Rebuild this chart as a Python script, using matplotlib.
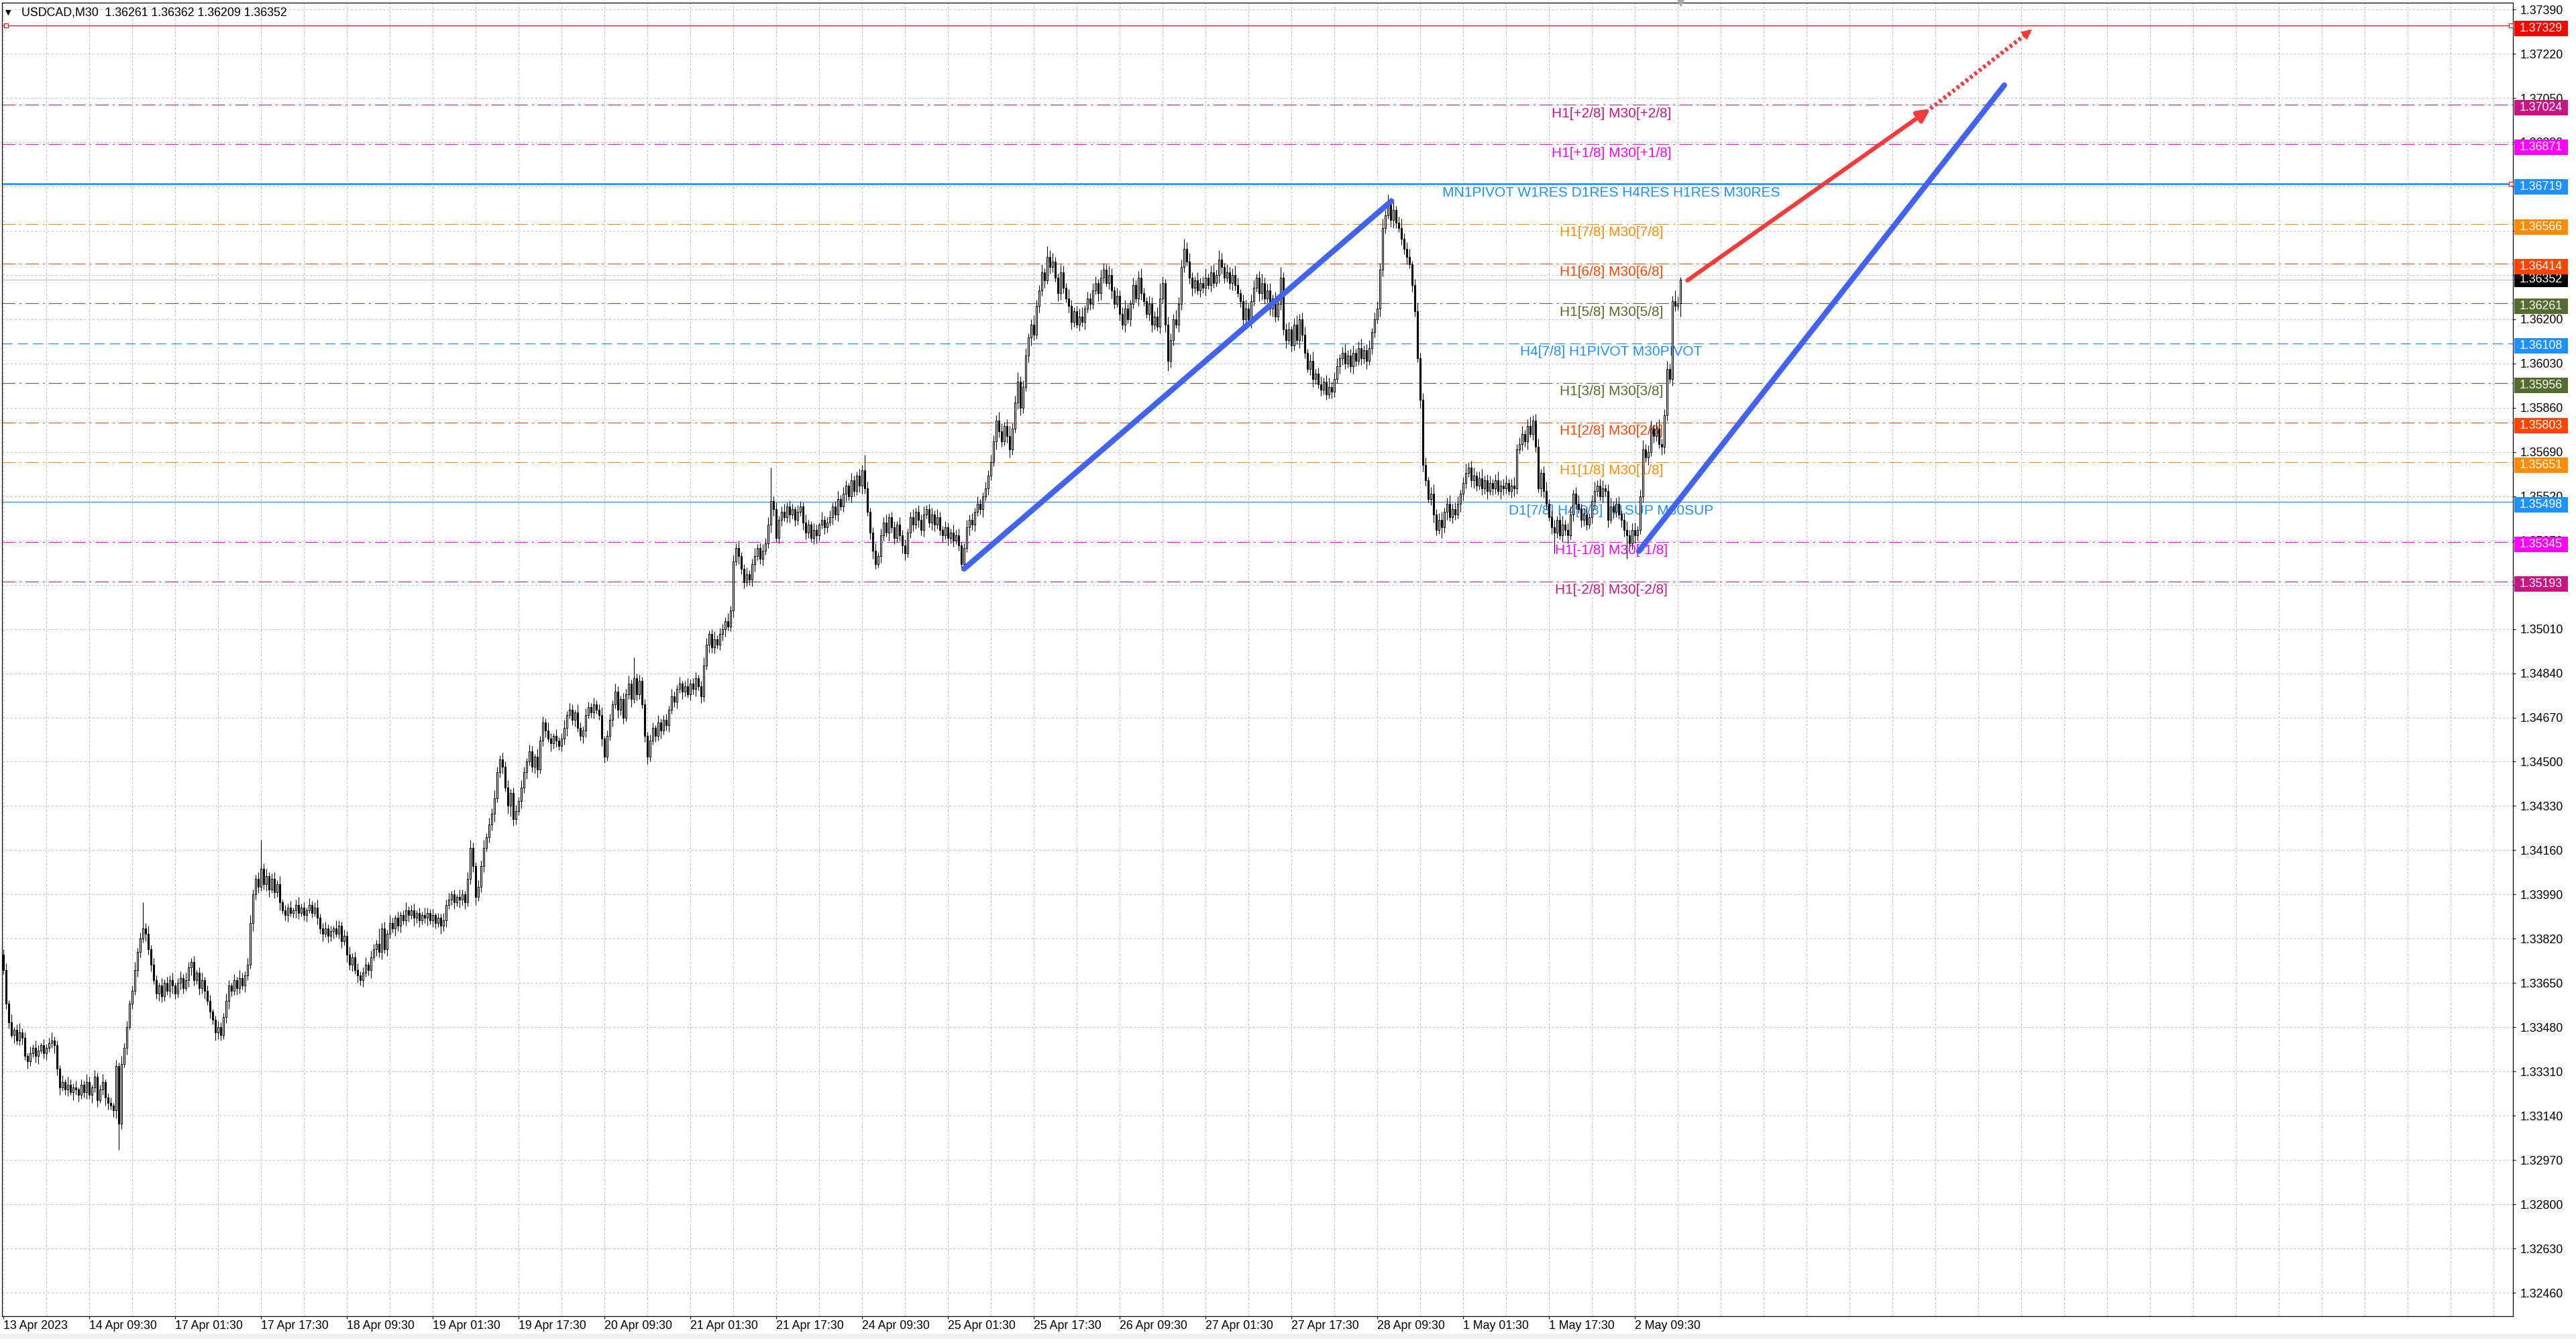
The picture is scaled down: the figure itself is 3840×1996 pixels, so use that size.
import matplotlib
matplotlib.use("Agg")
import matplotlib.pyplot as plt
import matplotlib.transforms as mtransforms
from matplotlib.patches import Rectangle
from matplotlib.ticker import FormatStrFormatter
import numpy as np

plt.rcParams['font.family'] = ['Liberation Sans', 'DejaVu Sans']
plt.rcParams['lines.scale_dashes'] = False

# ---------------- data ----------------
symbol = "USDCAD,M30"
first_open = 1.3376
closes = [
    1.3370, 1.3357, 1.3350, 1.3345, 1.3347, 1.3343, 1.3346, 1.3344, 1.3337, 1.3335,
    1.3338, 1.3340, 1.3337, 1.3339, 1.3341, 1.3338, 1.3340, 1.3342, 1.3343, 1.3341,
    1.3332, 1.3325, 1.3327, 1.3324, 1.3326, 1.3323, 1.3325, 1.3324, 1.3322, 1.3326,
    1.3323, 1.3327, 1.3322, 1.3325, 1.3329, 1.3320, 1.3324, 1.3327, 1.3321, 1.3319,
    1.3318, 1.3316, 1.3333, 1.3311, 1.3334, 1.3340, 1.3348, 1.3357, 1.3362, 1.3370,
    1.3377, 1.3382, 1.3386, 1.3384, 1.3378, 1.3372, 1.3366, 1.3361, 1.3364, 1.3360,
    1.3365, 1.3362, 1.3366, 1.3364, 1.3361, 1.3365, 1.3367, 1.3363, 1.3366, 1.3371,
    1.3373, 1.3366, 1.3369, 1.3363, 1.3366, 1.3362, 1.3358, 1.3354, 1.3351, 1.3346,
    1.3348, 1.3345, 1.3352, 1.3358, 1.3364, 1.3362, 1.3366, 1.3363, 1.3367, 1.3364,
    1.3368, 1.3372, 1.3388, 1.3399, 1.3405, 1.3402, 1.3409, 1.3403, 1.3406, 1.3401,
    1.3405, 1.3400, 1.3403, 1.3396, 1.3393, 1.3391, 1.3394, 1.3392, 1.3393, 1.3395,
    1.3392, 1.3394, 1.3391, 1.3393, 1.3395, 1.3392, 1.3394, 1.3390, 1.3386, 1.3384,
    1.3386, 1.3383, 1.3385, 1.3386, 1.3384, 1.3387, 1.3381, 1.3383, 1.3376, 1.3372,
    1.3375, 1.3370, 1.3368, 1.3366, 1.3369, 1.3372, 1.3370, 1.3375, 1.3378, 1.3380,
    1.3377, 1.3386, 1.3378, 1.3384, 1.3388, 1.3386, 1.3390, 1.3387, 1.3391, 1.3389,
    1.3393, 1.3391, 1.3393, 1.3390, 1.3392, 1.3389, 1.3391, 1.3390, 1.3392, 1.3389,
    1.3391, 1.3388, 1.3390, 1.3387, 1.3389, 1.3395, 1.3397, 1.3399, 1.3396, 1.3398,
    1.3397, 1.3399, 1.3396, 1.3405, 1.3417, 1.3410, 1.3398, 1.3402, 1.3410, 1.3417,
    1.3421, 1.3426, 1.3430, 1.3436, 1.3446, 1.3451, 1.3448, 1.3440, 1.3433, 1.3438,
    1.3428, 1.3431, 1.3435, 1.3440, 1.3446, 1.3450, 1.3454, 1.3448, 1.3452, 1.3447,
    1.3458, 1.3465, 1.3462, 1.3459, 1.3457, 1.3460, 1.3458, 1.3456, 1.3459, 1.3463,
    1.3468, 1.3470, 1.3466, 1.3469, 1.3463, 1.3460, 1.3462, 1.3468, 1.3471, 1.3469,
    1.3472, 1.3470, 1.3468, 1.3459, 1.3452, 1.3460, 1.3466, 1.3472, 1.3477, 1.3470,
    1.3474, 1.3467, 1.3476, 1.3480, 1.3474, 1.3482, 1.3476, 1.3481, 1.3472, 1.3460,
    1.3452, 1.3458, 1.3463, 1.3460, 1.3465, 1.3462, 1.3466, 1.3464, 1.3470, 1.3475,
    1.3473, 1.3478, 1.3480, 1.3477, 1.3479, 1.3476, 1.3480, 1.3478, 1.3482, 1.3479,
    1.3475, 1.3487, 1.3495, 1.3499, 1.3494, 1.3497, 1.3495, 1.3499, 1.3501, 1.3504,
    1.3502, 1.3508, 1.3527, 1.3532, 1.3529, 1.3524, 1.3519, 1.3522, 1.3520, 1.3526,
    1.3529, 1.3532, 1.3528, 1.3531, 1.3534, 1.3541, 1.3550, 1.3547, 1.3536, 1.3543,
    1.3546, 1.3544, 1.3548, 1.3545, 1.3547, 1.3543, 1.3546, 1.3548, 1.3542, 1.3538,
    1.3541, 1.3536, 1.3539, 1.3537, 1.3541, 1.3543, 1.3540, 1.3542, 1.3544, 1.3548,
    1.3545, 1.3551, 1.3548, 1.3553, 1.3556, 1.3552, 1.3558, 1.3554, 1.3560, 1.3556,
    1.3562, 1.3555, 1.3546, 1.3538, 1.3531, 1.3526, 1.3529, 1.3537, 1.3542, 1.3538,
    1.3544, 1.3540, 1.3536, 1.3541, 1.3537, 1.3533, 1.3530, 1.3538, 1.3544, 1.3541,
    1.3546, 1.3543, 1.3539, 1.3545, 1.3547, 1.3542, 1.3545, 1.3541, 1.3544, 1.3539,
    1.3537, 1.3540, 1.3536, 1.3538, 1.3535, 1.3537, 1.3533, 1.3526, 1.3532, 1.3540,
    1.3543, 1.3541, 1.3546, 1.3549, 1.3547, 1.3552, 1.3555, 1.3560, 1.3565, 1.3573,
    1.3581, 1.3577, 1.3573, 1.3579, 1.3575, 1.3570, 1.3578, 1.3588, 1.3596, 1.3586,
    1.3594, 1.3606, 1.3613, 1.3618, 1.3614, 1.3625, 1.3631, 1.3638, 1.3635, 1.3644,
    1.3640, 1.3642, 1.3636, 1.3630, 1.3638, 1.3632, 1.3628, 1.3625, 1.3619, 1.3623,
    1.3618, 1.3621, 1.3619, 1.3624, 1.3628, 1.3626, 1.3631, 1.3634, 1.3630, 1.3636,
    1.3639, 1.3634, 1.3637, 1.3631, 1.3626, 1.3629, 1.3622, 1.3618, 1.3624, 1.3620,
    1.3626, 1.3633, 1.3628, 1.3636, 1.3630, 1.3627, 1.3622, 1.3626, 1.3618, 1.3621,
    1.3617, 1.3628, 1.3634, 1.3618, 1.3604, 1.3612, 1.3620, 1.3618, 1.3626, 1.3640,
    1.3647, 1.3642, 1.3636, 1.3632, 1.3635, 1.3631, 1.3634, 1.3632, 1.3636, 1.3633,
    1.3638, 1.3634, 1.3637, 1.3643, 1.3640, 1.3636, 1.3638, 1.3634, 1.3637, 1.3633,
    1.3630, 1.3627, 1.3620, 1.3624, 1.3619, 1.3627, 1.3632, 1.3636, 1.3630, 1.3634,
    1.3628, 1.3631, 1.3624, 1.3628, 1.3621, 1.3626, 1.3636, 1.3616, 1.3612, 1.3616,
    1.3610, 1.3618, 1.3612, 1.3620, 1.3614, 1.3607, 1.3601, 1.3604, 1.3597, 1.3599,
    1.3595, 1.3593, 1.3596, 1.3591, 1.3594, 1.3592, 1.3597, 1.3602, 1.3605, 1.3607,
    1.3603, 1.3606, 1.3602, 1.3607, 1.3604, 1.3609, 1.3605, 1.3608, 1.3604, 1.3609,
    1.3615, 1.3620, 1.3624, 1.3639, 1.3655, 1.3660, 1.3664, 1.3658, 1.3662, 1.3657,
    1.3655, 1.3651, 1.3647, 1.3644, 1.3641, 1.3633, 1.3623, 1.3605, 1.3589, 1.3564,
    1.3558, 1.3551, 1.3553, 1.3545, 1.3539, 1.3543, 1.3540, 1.3546, 1.3549, 1.3544,
    1.3547, 1.3545, 1.3549, 1.3553, 1.3557, 1.3561, 1.3563, 1.3558, 1.3560, 1.3556,
    1.3559, 1.3555, 1.3558, 1.3554, 1.3557, 1.3555, 1.3558, 1.3554, 1.3556, 1.3555,
    1.3557, 1.3554, 1.3556, 1.3555, 1.3570, 1.3572, 1.3576, 1.3573, 1.3579, 1.3576,
    1.3581, 1.3571, 1.3555, 1.3561, 1.3554, 1.3549, 1.3544, 1.3540, 1.3538, 1.3543,
    1.3537, 1.3541, 1.3539, 1.3537, 1.3545, 1.3553, 1.3549, 1.3547, 1.3543, 1.3545,
    1.3541, 1.3544, 1.3550, 1.3554, 1.3556, 1.3552, 1.3555, 1.3554, 1.3543, 1.3548,
    1.3546, 1.3549, 1.3545, 1.3543, 1.3539, 1.3537, 1.3534, 1.3539, 1.3537, 1.3539,
    1.3552, 1.3570, 1.3567, 1.3569, 1.3578, 1.3575, 1.3578, 1.3572, 1.3571, 1.3583,
    1.3601, 1.3597, 1.3627, 1.3625, 1.36261, 1.36352,
]
# upper / lower wick lengths in points (0.00001)
hi_pts = [
    20, 25, 15, 30, 10, 20, 35, 15, 20, 10,
    25, 15, 30, 20, 10, 25, 15, 20, 30, 15,
    20, 15, 25, 10, 30, 20, 15, 25, 10, 20,
    15, 30, 20, 10, 25, 15, 20, 30, 10, 15,
    20, 10, 25, 15, 30, 20, 25, 15, 20, 30,
    15, 25, 100, 20, 30, 15, 25, 20, 10, 30,
    15, 25, 20, 30, 10, 20, 25, 15, 30, 20,
    15, 25, 10, 20, 30, 15, 20, 25, 10, 15,
    25, 20, 15, 30, 20, 10, 25, 15, 30, 20,
    15, 25, 30, 20, 15, 25, 110, 20, 30, 15,
    20, 25, 15, 30, 10, 20, 15, 25, 10, 20,
    30, 15, 20, 10, 25, 15, 20, 30, 15, 20,
    25, 15, 20, 10, 30, 20, 15, 25, 20, 30,
    15, 20, 25, 15, 20, 30, 10, 25, 20, 15,
    60, 20, 25, 15, 30, 20, 10, 25, 15, 20,
    30, 15, 20, 25, 10, 20, 15, 30, 20, 15,
    25, 10, 20, 15, 30, 20, 25, 15, 20, 10,
    30, 20, 15, 25, 30, 20, 15, 25, 20, 30,
    15, 25, 20, 30, 20, 15, 25, 20, 30, 15,
    20, 25, 15, 30, 20, 15, 25, 20, 10, 30,
    20, 25, 15, 30, 20, 10, 25, 15, 20, 30,
    15, 25, 20, 10, 30, 20, 15, 25, 20, 15,
    25, 15, 20, 30, 10, 20, 25, 15, 30, 20,
    15, 25, 20, 30, 15, 80, 20, 25, 15, 20,
    15, 25, 20, 10, 30, 15, 20, 25, 15, 30,
    20, 15, 25, 10, 20, 30, 15, 20, 25, 15,
    20, 30, 25, 15, 20, 30, 15, 25, 20, 15,
    30, 20, 25, 20, 30, 15, 20, 25, 15, 20,
    30, 15, 20, 25, 20, 30, 130, 20, 25, 15,
    20, 30, 15, 25, 20, 10, 25, 20, 15, 30,
    20, 15, 25, 20, 10, 30, 15, 20, 25, 15,
    20, 30, 15, 25, 20, 10, 30, 20, 15, 25,
    20, 60, 25, 15, 20, 30, 15, 25, 20, 30,
    15, 20, 25, 15, 30, 20, 25, 15, 20, 30,
    15, 25, 20, 30, 15, 20, 25, 15, 30, 20,
    15, 25, 20, 15, 30, 20, 25, 15, 20, 30,
    20, 25, 15, 30, 20, 15, 25, 20, 30, 25,
    20, 35, 30, 15, 25, 40, 20, 25, 35, 20,
    25, 30, 15, 20, 35, 25, 20, 30, 15, 40,
    25, 35, 20, 15, 30, 25, 20, 35, 25, 15,
    20, 30, 35, 15, 25, 20, 30, 25, 15, 30,
    25, 20, 35, 25, 15, 30, 20, 25, 35, 20,
    15, 30, 20, 25, 35, 20, 15, 30, 25, 20,
    35, 60, 25, 15, 30, 25, 20, 35, 25, 30,
    40, 25, 35, 20, 15, 30, 20, 25, 35, 15,
    25, 30, 20, 35, 25, 15, 30, 20, 25, 35,
    30, 15, 25, 35, 20, 25, 30, 15, 25, 35,
    20, 25, 30, 15, 25, 35, 40, 20, 25, 30,
    15, 25, 35, 20, 25, 30, 15, 25, 35, 20,
    25, 30, 15, 25, 35, 20, 25, 30, 15, 25,
    35, 20, 25, 30, 15, 25, 35, 20, 25, 30,
    15, 25, 30, 25, 35, 20, 40, 25, 30, 15,
    25, 35, 20, 25, 30, 15, 25, 35, 20, 25,
    30, 15, 25, 35, 20, 25, 30, 15, 25, 35,
    20, 25, 30, 15, 25, 35, 20, 25, 30, 15,
    25, 35, 20, 25, 30, 15, 25, 35, 20, 25,
    30, 15, 25, 35, 20, 25, 30, 15, 25, 35,
    20, 25, 30, 15, 25, 35, 20, 25, 30, 15,
    25, 35, 20, 25, 30, 15, 25, 35, 20, 25,
    30, 15, 25, 35, 20, 25, 30, 15, 25, 35,
    20, 25, 30, 15, 25, 35, 20, 25, 30, 15,
    25, 35, 20, 25, 30, 15, 25, 35, 20, 25,
    30, 20, 20, 40, 25, 10,
]
lo_pts = [
    15, 20, 25, 10, 30, 15, 20, 25, 15, 30,
    20, 15, 25, 30, 10, 20, 25, 15, 20, 30,
    25, 30, 15, 20, 25, 10, 30, 20, 25, 15,
    20, 25, 15, 30, 20, 25, 10, 20, 30, 25,
    15, 25, 30, 100, 20, 15, 25, 10, 20, 15,
    25, 20, 15, 30, 20, 25, 15, 20, 30, 25,
    20, 15, 25, 30, 20, 15, 25, 20, 10, 25,
    30, 20, 15, 25, 20, 30, 15, 25, 20, 30,
    25, 20, 15, 25, 30, 20, 15, 25, 20, 15,
    25, 20, 15, 30, 20, 25, 15, 20, 25, 30,
    15, 25, 20, 30, 15, 20, 25, 15, 20, 30,
    25, 15, 20, 25, 10, 20, 15, 25, 20, 30,
    15, 25, 20, 30, 15, 20, 25, 15, 30, 20,
    25, 15, 30, 20, 25, 15, 20, 30, 15, 25,
    20, 30, 15, 25, 20, 15, 30, 20, 25, 15,
    20, 25, 15, 30, 20, 25, 15, 20, 30, 15,
    25, 20, 15, 30, 20, 25, 15, 20, 25, 15,
    30, 20, 25, 15, 20, 25, 30, 15, 20, 25,
    15, 20, 25, 30, 15, 20, 25, 15, 30, 40,
    25, 20, 15, 30, 20, 25, 15, 20, 25, 30,
    15, 20, 25, 15, 30, 20, 25, 15, 20, 25,
    30, 15, 20, 25, 15, 20, 30, 25, 15, 20,
    25, 15, 20, 30, 25, 15, 20, 25, 15, 30,
    20, 25, 15, 20, 30, 15, 25, 20, 15, 25,
    30, 20, 15, 25, 20, 30, 15, 20, 25, 15,
    20, 25, 15, 30, 20, 15, 25, 20, 30, 15,
    25, 20, 15, 30, 20, 25, 15, 20, 25, 30,
    15, 20, 25, 15, 30, 20, 25, 15, 20, 25,
    30, 15, 20, 25, 15, 20, 30, 25, 15, 20,
    25, 15, 20, 30, 15, 25, 20, 15, 30, 25,
    20, 15, 25, 30, 20, 15, 25, 20, 15, 30,
    20, 25, 15, 20, 30, 15, 25, 20, 15, 25,
    30, 20, 15, 25, 30, 20, 15, 25, 20, 15,
    30, 20, 25, 15, 20, 30, 25, 15, 20, 25,
    15, 30, 20, 25, 15, 20, 30, 25, 15, 20,
    25, 15, 30, 20, 25, 15, 20, 20, 25, 15,
    30, 20, 25, 15, 20, 30, 15, 25, 20, 15,
    30, 25, 20, 15, 25, 30, 20, 15, 25, 30,
    20, 15, 25, 30, 20, 15, 25, 20, 30, 15,
    25, 20, 15, 30, 25, 20, 15, 25, 30, 20,
    15, 25, 20, 30, 15, 25, 20, 15, 30, 25,
    20, 15, 25, 30, 20, 15, 25, 20, 30, 15,
    25, 20, 15, 30, 25, 20, 15, 25, 30, 20,
    15, 25, 20, 30, 40, 25, 20, 15, 30, 25,
    20, 15, 25, 30, 20, 15, 25, 20, 30, 15,
    25, 20, 15, 30, 25, 20, 15, 25, 30, 20,
    15, 25, 20, 30, 15, 25, 20, 15, 30, 25,
    20, 15, 25, 30, 20, 15, 25, 20, 30, 15,
    25, 20, 15, 30, 25, 20, 15, 25, 30, 20,
    15, 25, 20, 20, 15, 25, 20, 15, 30, 25,
    20, 15, 25, 30, 20, 15, 25, 20, 30, 15,
    25, 20, 15, 30, 25, 20, 15, 25, 30, 20,
    15, 25, 20, 30, 15, 25, 20, 15, 30, 25,
    20, 15, 25, 30, 20, 15, 40, 20, 30, 15,
    25, 20, 15, 30, 25, 20, 15, 25, 30, 20,
    15, 25, 20, 30, 15, 25, 20, 15, 30, 25,
    20, 15, 25, 30, 20, 15, 25, 20, 30, 15,
    25, 20, 15, 30, 25, 20, 15, 25, 80, 20,
    15, 25, 20, 30, 15, 25, 20, 15, 30, 25,
    20, 15, 25, 30, 20, 15, 25, 20, 30, 15,
    25, 20, 15, 30, 25, 90, 15, 25, 30, 20,
    15, 25, 20, 30, 15, 25, 20, 15, 30, 25,
    20, 15, 25, 20, 15, 52,
]

date_labels = ["13 Apr 2023", "14 Apr 09:30", "17 Apr 01:30", "17 Apr 17:30",
               "18 Apr 09:30", "19 Apr 01:30", "19 Apr 17:30", "20 Apr 09:30",
               "21 Apr 01:30", "21 Apr 17:30", "24 Apr 09:30", "25 Apr 01:30",
               "25 Apr 17:30", "26 Apr 09:30", "27 Apr 01:30", "27 Apr 17:30",
               "28 Apr 09:30", "1 May 01:30", "1 May 17:30", "2 May 09:30"]
bars_per_label = 32
bars_per_grid = 16

price_ticks = [1.32460, 1.32630, 1.32800, 1.32970, 1.33140, 1.33310, 1.33480,
               1.33650, 1.33820, 1.33990, 1.34160, 1.34330, 1.34500, 1.34670,
               1.34840, 1.35010, 1.35180, 1.35350, 1.35520, 1.35690, 1.35860,
               1.36030, 1.36200, 1.36370, 1.36540, 1.36710, 1.36880, 1.37050,
               1.37220, 1.37390]

levels = [1.37024, 1.36871, 1.36719, 1.36566, 1.36414, 1.36261, 1.36108,
          1.35956, 1.35803, 1.35651, 1.35498, 1.35345, 1.35193]
level_texts = ["H1[+2/8] M30[+2/8]", "H1[+1/8] M30[+1/8]",
               "MN1PIVOT W1RES D1RES H4RES H1RES M30RES",
               "H1[7/8] M30[7/8]", "H1[6/8] M30[6/8]", "H1[5/8] M30[5/8]",
               "H4[7/8] H1PIVOT M30PIVOT", "H1[3/8] M30[3/8]",
               "H1[2/8] M30[2/8]", "H1[1/8] M30[1/8]",
               "D1[7/8] H4[6/8] H1SUP M30SUP", "H1[-1/8] M30[-1/8]",
               "H1[-2/8] M30[-2/8]"]
level_colors = ["#C71585", "#FF00FF", "#1E90FF", "#FF8C00", "#FF4500",
                "#556B2F", "#1E90FF", "#556B2F", "#FF4500", "#FF8C00",
                "#1E90FF", "#FF00FF", "#C71585"]
level_kinds = ["dashdot", "dashdot", "thick", "dashdot", "dashdot", "dashdot",
               "dashed", "dashdot", "dashdot", "dashdot", "thin", "dashdot",
               "dashdot"]
red_level = 1.37329

# drawn objects (bar index, price)
blue_trends = [[(358.0, 1.35241), (517.3, 1.36654)],
               [(609.5, 1.35309), (745.7, 1.37099)]]
red_arrow = [(627.6, 1.36349), (718.2, 1.37009)]
red_dotted = [(718.2, 1.37009), (756.0, 1.37313)]

# ---------------- figure ----------------
W, H, DPI = 3840, 1996, 100
fig = plt.figure(figsize=(W / DPI, H / DPI), dpi=DPI, facecolor='white')
ax = fig.add_axes([3 / W, 34 / H, 3743 / W, 1958 / H])
ax.set_facecolor('white')
ax.set_xlim(-0.5, 935.25)
ax.set_ylim(1.32370, 1.37416)

# grid
ax.set_axisbelow(True)
ax.set_xticks(np.arange(0, len(date_labels) * bars_per_label, bars_per_label))
ax.set_xticklabels(date_labels, ha='left')
ax.set_xticks(np.arange(0, 936, bars_per_grid), minor=True)
ax.set_yticks(price_ticks)
ax.yaxis.set_major_formatter(FormatStrFormatter('%.5f'))
ax.yaxis.tick_right()
ax.grid(True, which='both', color='#C0C0C0', lw=0.75, ls=(0, (2.2, 2.2)))
ax.tick_params(axis='x', which='major', length=3, width=0.8, pad=1,
               labelsize=12.8, direction='out')
ax.tick_params(axis='x', which='minor', length=0)
ax.tick_params(axis='y', which='major', length=3, width=0.8, pad=5,
               labelsize=12.8, direction='out')
for s in ax.spines.values():
    s.set_color('black')
    s.set_linewidth(0.9)

# level lines
style_map = {
    "dashdot": dict(lw=0.8, ls=(0, (14, 4.5, 2, 4.5))),
    "dashed": dict(lw=0.9, ls=(0, (11, 5.5))),
    "thick": dict(lw=1.9, ls='-'),
    "thin": dict(lw=0.9, ls='-'),
}
for lv, col, kind in zip(levels, level_colors, level_kinds):
    ax.axhline(lv, color=col, zorder=2, **style_map[kind])
ax.axhline(red_level, color='#FF0000', lw=0.9, zorder=2)
ax.axhline(closes[-1], color='#C0C0C0', lw=0.9, zorder=2)

# level captions
txt_tr = mtransforms.offset_copy(ax.transData, fig=fig, x=0, y=-18.5, units='dots')
for lv, col, t in zip(levels, level_colors, level_texts):
    ax.text(599.25, lv, t, color=col, fontsize=15, ha='center', va='baseline',
            transform=txt_tr, zorder=3)

# candles
n = len(closes)
xs = np.arange(n)
c = np.array(closes)
o = np.array([first_open] + closes[:-1])
hi = np.maximum(o, c) + np.array(hi_pts) * 1e-5
lo = np.minimum(o, c) - np.array(lo_pts) * 1e-5
ax.vlines(xs, lo, hi, color='black', lw=0.8, zorder=4)
up = c >= o
ax.bar(xs[up], (c - o)[up], bottom=o[up], width=0.55, color='white',
       edgecolor='black', lw=0.8, zorder=5)
ax.bar(xs[~up], (o - c)[~up], bottom=c[~up], width=0.55, color='black',
       edgecolor='black', lw=0.8, zorder=5)

# trend lines and arrows
for seg in blue_trends:
    ax.plot([seg[0][0], seg[1][0]], [seg[0][1], seg[1][1]], color='#4262F0',
            lw=6, solid_capstyle='round', zorder=7)
red_col = '#F23C3C'
ax.annotate('', xy=red_arrow[1], xytext=red_arrow[0],
            arrowprops=dict(arrowstyle='-|>', color=red_col, lw=4.5,
                            mutation_scale=28, shrinkA=0, shrinkB=0), zorder=7)
ax.plot([red_dotted[0][0], red_dotted[1][0]], [red_dotted[0][1], red_dotted[1][1]],
        color=red_col, lw=4.5, ls=(0, (3, 3)), zorder=7)
ax.annotate('', xy=red_dotted[1], xytext=red_dotted[0],
            arrowprops=dict(arrowstyle='-|>', color=red_col, lw=0.01,
                            mutation_scale=28, shrinkA=0, shrinkB=0), zorder=7)

# right price boxes
blend = mtransforms.blended_transform_factory(ax.transAxes, ax.transData)
px = (1.37390 - 1.32460) / 1913.0  # price per pixel
box_x0 = (3748 - 3) / 3743
box_w = 80 / 3743
txt_x = (3756 - 3) / 3743


def price_box(level, color, shift_px, z):
    yc = level - shift_px * px
    ax.add_patch(Rectangle((box_x0, yc - 11.5 * px), box_w, 23 * px,
                           transform=blend, facecolor=color, edgecolor='none',
                           clip_on=False, zorder=z))
    ax.text(txt_x, yc, f"{level:.5f}", transform=blend, color='white',
            fontsize=12.8, ha='left', va='center', clip_on=False, zorder=z + 0.5)


price_box(closes[-1], 'black', 0, 10)
price_box(red_level, '#FF0000', 4.3, 11)
for lv, col in zip(levels, level_colors):
    price_box(lv, col, 4.3, 11)

# hline end markers and shift marker
ax.plot([1, 934.5], [red_level, red_level], ls='none', marker='s', ms=4,
        mfc='white', mec='#FF0000', mew=0.8, clip_on=False, zorder=8)
ax.plot([934.5], [levels[2]], ls='none', marker='s', ms=4,
        mfc='white', mec='#FF0000', mew=0.8, clip_on=False, zorder=8)
ax.plot([n - 1], [1.37416], ls='none', marker='v', ms=7, color='#A8A8A8',
        clip_on=False, zorder=8)

# header
o_last, c_last = o[-1], c[-1]
fig.text(8 / W, 1 - 19 / H, '\u25BC', fontsize=8, family='DejaVu Sans',
         va='center', ha='left', color='black')
fig.text(32 / W, 1 - 19 / H,
         f"{symbol}  {o_last:.5f} {hi[-1]:.5f} {lo[-1]:.5f} {c_last:.5f}",
         fontsize=12.8, va='center', ha='left', color='black')

# bottom border band
fig.patches.append(Rectangle((0, 0), 1, 8 / H, transform=fig.transFigure,
                             facecolor='#F0F0F0', edgecolor='none'))

fig.savefig('out.png', dpi=DPI, facecolor='white')
